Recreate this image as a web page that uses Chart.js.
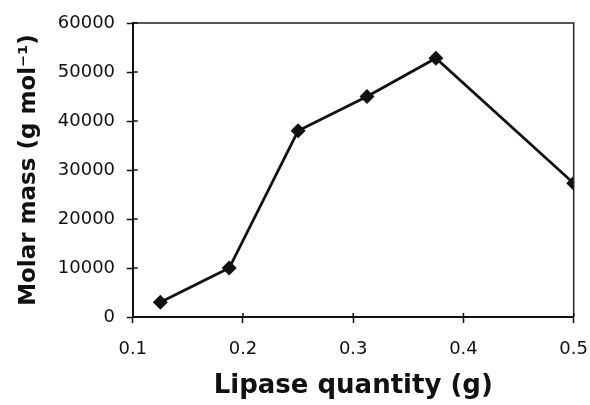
<!DOCTYPE html>
<html>
<head>
<meta charset="utf-8">
<script src="https://cdn.jsdelivr.net/npm/chart.js@4"></script>
<style>
  html, body { margin: 0; padding: 0; background: #fff; }
  #wrap { width: 590px; height: 405px; }
</style>
</head>
<body>
<div id="wrap"><canvas id="c"></canvas></div>
<script>
// lipase quantity (g) vs molar mass (g/mol)
const lipase = [0.125, 0.1875, 0.25, 0.3125, 0.375, 0.5];
const molarMass = [3000, 10000, 38000, 45000, 52800, 27300];
const xTicks = [0.1, 0.2, 0.3, 0.4, 0.5];
const yTicks = [0, 10000, 20000, 30000, 40000, 50000, 60000];

const INK = '#111';
const TICK_FONT = { family: '"DejaVu Sans", sans-serif', size: 18 };
const TITLE_FONT = { family: '"DejaVu Sans", sans-serif', size: 26, weight: 'bold' };

// frame on top/right + inner half of the tick marks
const frame = {
  id: 'frame',
  afterDraw(chart) {
    const { ctx, chartArea: a, scales: { x, y } } = chart;
    ctx.save();
    ctx.strokeStyle = '#222';
    ctx.lineWidth = 1.5;
    ctx.beginPath();
    ctx.moveTo(a.left, a.top);
    ctx.lineTo(a.right, a.top);
    ctx.lineTo(a.right, a.bottom);
    ctx.stroke();
    ctx.strokeStyle = INK;
    ctx.beginPath();
    yTicks.forEach(v => {
      const py = y.getPixelForValue(v);
      ctx.moveTo(a.left, py);
      ctx.lineTo(a.left + 5, py);
    });
    xTicks.forEach(v => {
      const px = x.getPixelForValue(v);
      ctx.moveTo(px, a.bottom);
      ctx.lineTo(px, a.bottom - 4);
    });
    ctx.stroke();
    ctx.restore();
  }
};

new Chart(document.getElementById('c'), {
  type: 'line',
  data: {
    datasets: [{
      data: lipase.map((v, i) => ({ x: v, y: molarMass[i] })),
      borderColor: INK,
      borderWidth: 2.8,
      backgroundColor: INK,
      pointStyle: 'rectRot',
      pointRadius: 7.5,
      pointBorderWidth: 0,
      tension: 0
    }]
  },
  options: {
    responsive: true,
    maintainAspectRatio: false,
    animation: false,
    layout: { padding: { left: 4, right: 16, top: 23, bottom: 6 } },
    plugins: { legend: { display: false }, tooltip: { enabled: false } },
    scales: {
      x: {
        type: 'linear',
        min: 0.1,
        max: 0.5,
        afterBuildTicks: (s) => { s.ticks = xTicks.map(v => ({ value: v })); },
        border: { color: INK, width: 2 },
        grid: { drawOnChartArea: false, tickLength: 6, color: INK, tickWidth: 1.5 },
        ticks: {
          color: '#111',
          font: { ...TICK_FONT, lineHeight: 2.72 },
          padding: 2,
          maxRotation: 0,
          callback: (v) => String(v)
        },
        title: {
          display: true,
          text: 'Lipase quantity (g)',
          color: INK,
          font: { ...TITLE_FONT, lineHeight: 1 },
          padding: { top: -3, bottom: 0 }
        }
      },
      y: {
        min: 0,
        max: 60000,
        afterBuildTicks: (s) => { s.ticks = yTicks.map(v => ({ value: v })); },
        border: { color: INK, width: 2 },
        grid: { drawOnChartArea: false, tickLength: 6, color: INK, tickWidth: 1.5 },
        ticks: {
          color: '#111',
          font: TICK_FONT,
          padding: 11.7,
          callback: (v) => String(v)
        },
        title: {
          display: true,
          text: 'Molar mass (g mol\u207B\u00B9)',
          color: INK,
          font: { ...TITLE_FONT, size: 23, lineHeight: 1.2 },
          padding: { top: 11.7, bottom: 2.8 }
        }
      }
    }
  },
  plugins: [frame]
});
</script>
</body>
</html>
